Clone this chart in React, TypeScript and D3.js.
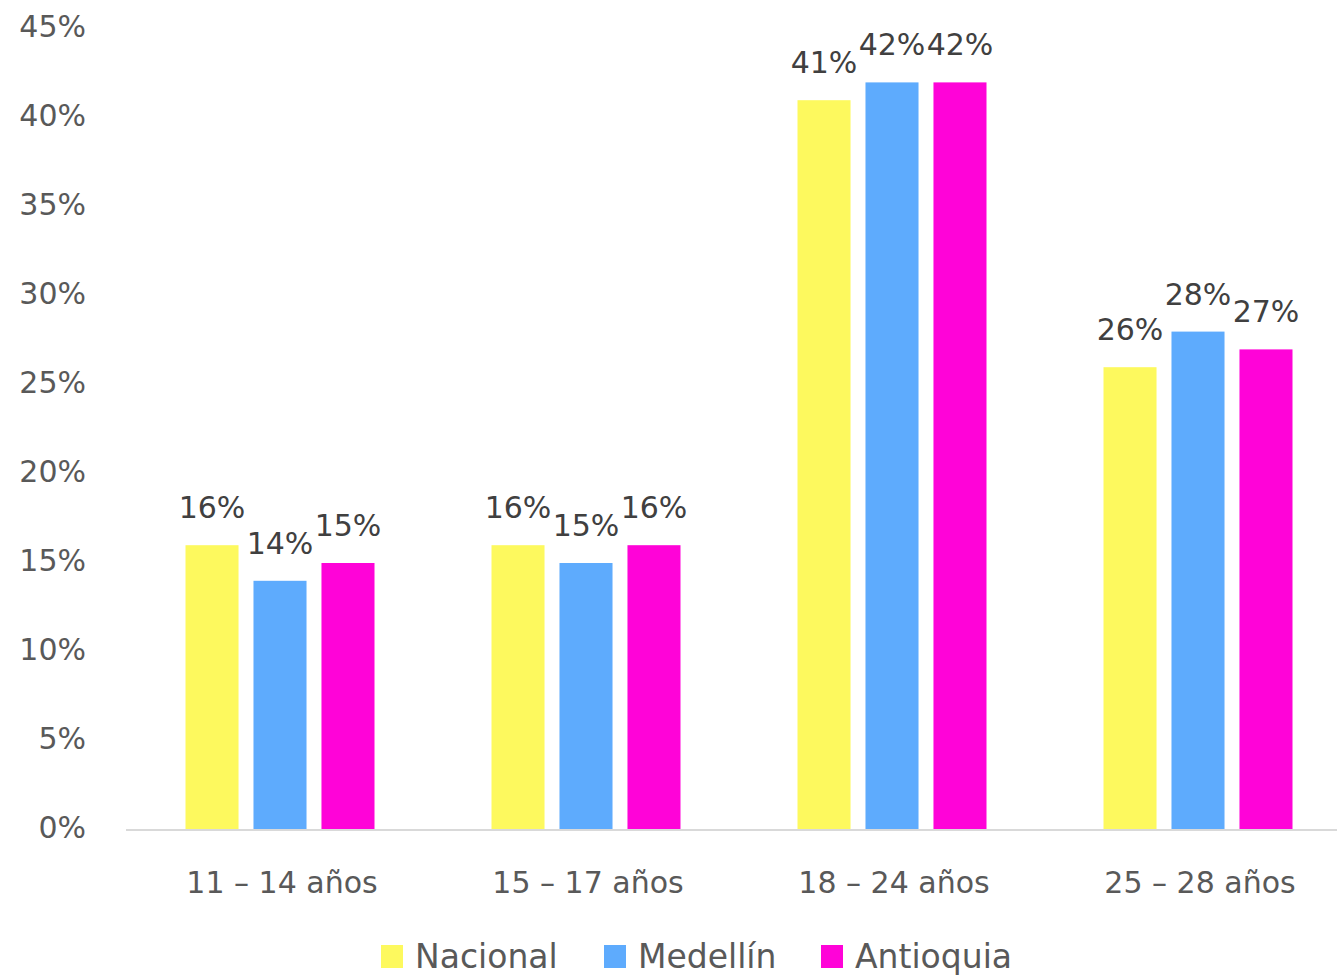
import React from "react";
import * as d3 from "d3";

const categories = ["11 – 14 años", "15 – 17 años", "18 – 24 años", "25 – 28 años"];
const seriesNames = ["Nacional", "Medellín", "Antioquia"];
const nacional = [16, 16, 41, 26];
const medellin = [14, 15, 42, 28];
const antioquia = [15, 16, 42, 27];
const yTicks = [0, 5, 10, 15, 20, 25, 30, 35, 40, 45];
const colors = ["#FDF95E", "#5EABFD", "#FF03D8"];

const W = 1337;
const H = 975;
const FONT = "'DejaVu Sans', Verdana, sans-serif";

export default function App() {
  const series = [nacional, medellin, antioquia];
  const y = d3.scaleLinear().domain([0, 45]).range([830, 29]);
  const x0 = d3.scaleBand<string>().domain(categories).range([127, 1351]).paddingInner(0).paddingOuter(0);
  const groupW = 189;
  const x1 = d3.scaleBand<string>().domain(seriesNames).range([0, groupW]).paddingInner(0.22);
  const groupOffset = (x0.bandwidth() - groupW) / 2;
  return (
    <svg width={W} height={H} style={{ position: "absolute", left: 0, top: 0, background: "#fff" }}>
      <g fontFamily={FONT}>
        {yTicks.map((t) => (
          <text key={t} x={86} y={y(t) - 3} dy="0.35em" textAnchor="end" fontSize={30} fill="#595959">
            {t}%
          </text>
        ))}
        {categories.map((c, ci) => (
          <g key={c}>
            {series.map((s, si) => {
              const bx = (x0(c) as number) + groupOffset + (x1(seriesNames[si]) as number);
              const v = s[ci];
              return (
                <g key={si}>
                  <rect x={bx} y={y(v)} width={x1.bandwidth()} height={y(0) - y(v)} fill={colors[si]} />
                  <text x={bx + x1.bandwidth() / 2} y={y(v) - 27} textAnchor="middle" fontSize={30} fill="#404040">
                    {v}%
                  </text>
                </g>
              );
            })}
            <text x={(x0(c) as number) + x0.bandwidth() / 2 + 2} y={893} textAnchor="middle" fontSize={30} fill="#595959">
              {c}
            </text>
          </g>
        ))}
        <line x1={126} x2={1337} y1={y(0)} y2={y(0)} stroke="#D9D9D9" strokeWidth={2} />
        {[
          { sx: 381, tx: 415 },
          { sx: 604, tx: 638 },
          { sx: 821, tx: 855 },
        ].map((p, i) => (
          <g key={i}>
            <rect x={p.sx} y={945} width={22} height={23} fill={colors[i]} />
            <text x={p.tx} y={968} fontSize={33} fill="#595959">
              {seriesNames[i]}
            </text>
          </g>
        ))}
      </g>
    </svg>
  );
}
